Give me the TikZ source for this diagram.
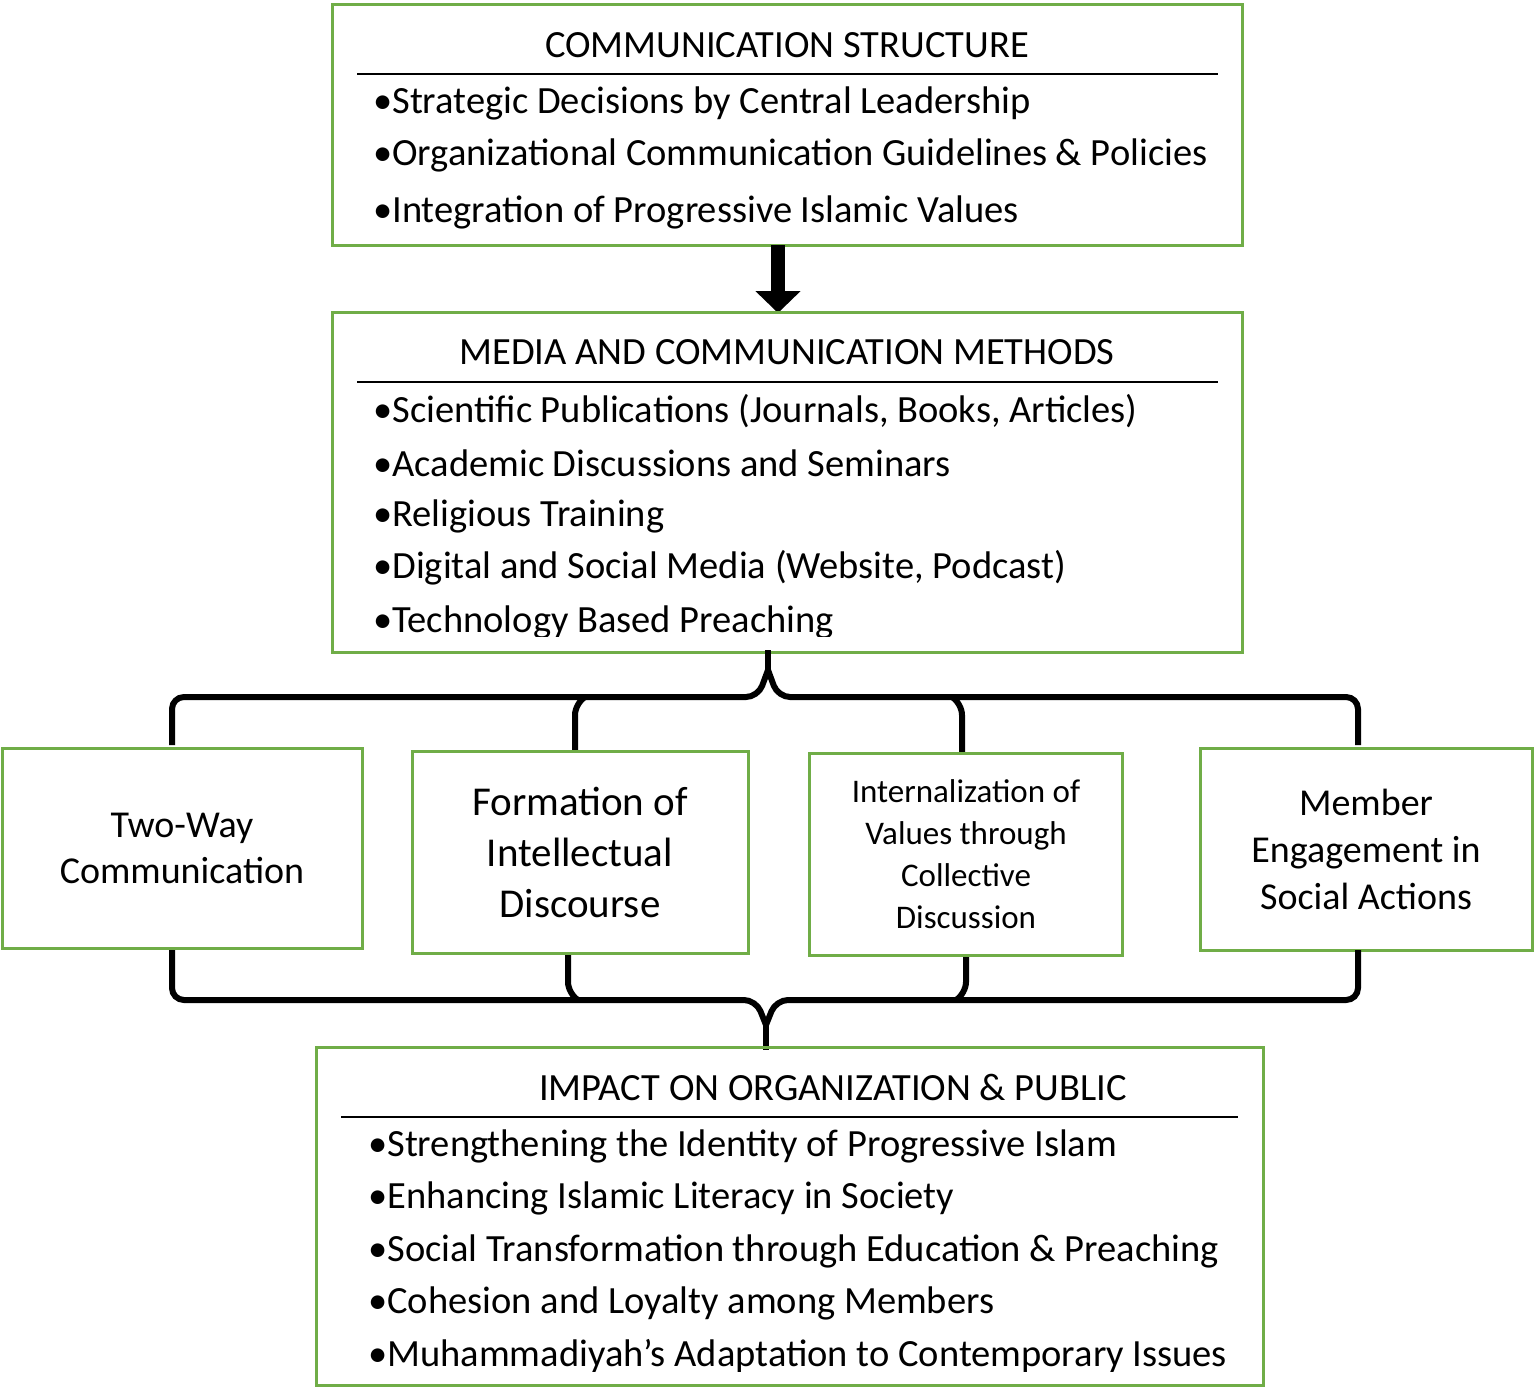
\documentclass[tikz,border=0pt]{standalone}
\usepackage{fontspec}
\setmainfont{Carlito}
\usetikzlibrary{arrows.meta}
\definecolor{gr}{RGB}{112,173,71}
\begin{document}
\begin{tikzpicture}[x=1pt,y=-1pt,
 box/.style={draw=gr,line width=3pt},
 bt/.style={anchor=west,inner sep=0,font=\fontsize{38.5}{44}\selectfont},
 tt/.style={inner sep=0,font=\fontsize{38.5}{44}\selectfont},
 mb/.style={draw=gr,line width=3pt,align=center,inner sep=0},
 br/.style={line width=6pt,rounded corners=12pt}]
\useasboundingbox (0,0) rectangle (1535,1387);
% box 1
\draw[box] (332,4) rectangle (1242,245);
\node[tt] (t1) at (787,45) {COMMUNICATION STRUCTURE};
\draw[line width=1.5pt] (357,74) -- (1218,74);
\node[bt] (a1) at (373,103) {•Strategic Decisions by Central Leadership};
\node[bt] (a2) at (373,155) {•Organizational Communication Guidelines \& Policies};
\node[bt] (a3) at (373,212) {•Integration of Progressive Islamic Values};
% arrow
\coordinate (p1) at (778,245);
\coordinate (p2) at (778,313);
\draw[line width=14pt,-{Triangle[width=44pt,length=22pt]}] (p1) -- (p2);
% box 2
\draw[box] (332,312) rectangle (1242,652);
\node[tt] (t2) at (787,352) {MEDIA AND COMMUNICATION METHODS};
\draw[line width=1.5pt] (357,382) -- (1218,382);
\node[bt] (b1) at (373,411) {•Scientific Publications (Journals, Books, Articles)};
\node[bt] (b2) at (373,463) {•Academic Discussions and Seminars};
\node[bt] (b3) at (373,516) {•Religious Training};
\node[bt] (b4) at (373,568) {•Digital and Social Media (Website, Podcast)};
\begin{scope}
\clip (340,590) rectangle (1230,636);
\node[bt] (b5) at (373,622) {•Technology Based Preaching};
\end{scope}
% top brace
\draw[br] (172,745) -- (172,697) -- (758,697) -- (768,670);
\draw[br] (1358,745) -- (1358,697) -- (778,697) -- (768,670);
\draw[line width=6pt] (768,650) -- (768,672);
\draw[br] (575,750) -- (575,703) -- (585,697);
\draw[br] (962,752) -- (962,703) -- (952,697);
% middle boxes
\node[mb,minimum width=360pt,minimum height=200pt,font=\fontsize{38}{46}\selectfont] (m1) at (182,848) {Two-Way\\Communication};
\node[mb,minimum width=336pt,minimum height=202pt,font=\fontsize{41}{51}\selectfont] (m2) at (580,852) {Formation of\\Intellectual\\Discourse};
\node[mb,minimum width=313pt,minimum height=202pt,font=\fontsize{33}{42}\selectfont] (m3) at (966,854) {Internalization of\\Values through\\Collective\\Discussion};
\node[mb,minimum width=332pt,minimum height=202pt,font=\fontsize{38}{47}\selectfont] (m4) at (1366,849) {Member\\Engagement in\\Social Actions};
% bottom brace
\draw[br] (172,950) -- (172,1000) -- (756,1000) -- (766,1025);
\draw[br] (1358,950) -- (1358,1000) -- (776,1000) -- (766,1025);
\draw[line width=6pt] (766,1020) -- (766,1050);
\draw[br] (568,955) -- (568,994) -- (578,1000);
\draw[br] (966,957) -- (966,994) -- (956,1000);
% box 5
\draw[box] (316,1047) rectangle (1263,1385);
\node[tt] (t5) at (833,1087) {IMPACT ON ORGANIZATION \& PUBLIC};
\draw[line width=1.5pt] (341,1117) -- (1238,1117);
\node[bt] (c1) at (368,1146) {•Strengthening the Identity of Progressive Islam};
\node[bt] (c2) at (368,1198) {•Enhancing Islamic Literacy in Society};
\node[bt] (c3) at (368,1251) {•Social Transformation through Education \& Preaching};
\node[bt] (c4) at (368,1303) {•Cohesion and Loyalty among Members};
\begin{scope}
\clip (330,1325) rectangle (1250,1371);
\node[bt] (c5) at (368,1356) {•Muhammadiyah’s Adaptation to Contemporary Issues};
\end{scope}
\end{tikzpicture}
\end{document}
